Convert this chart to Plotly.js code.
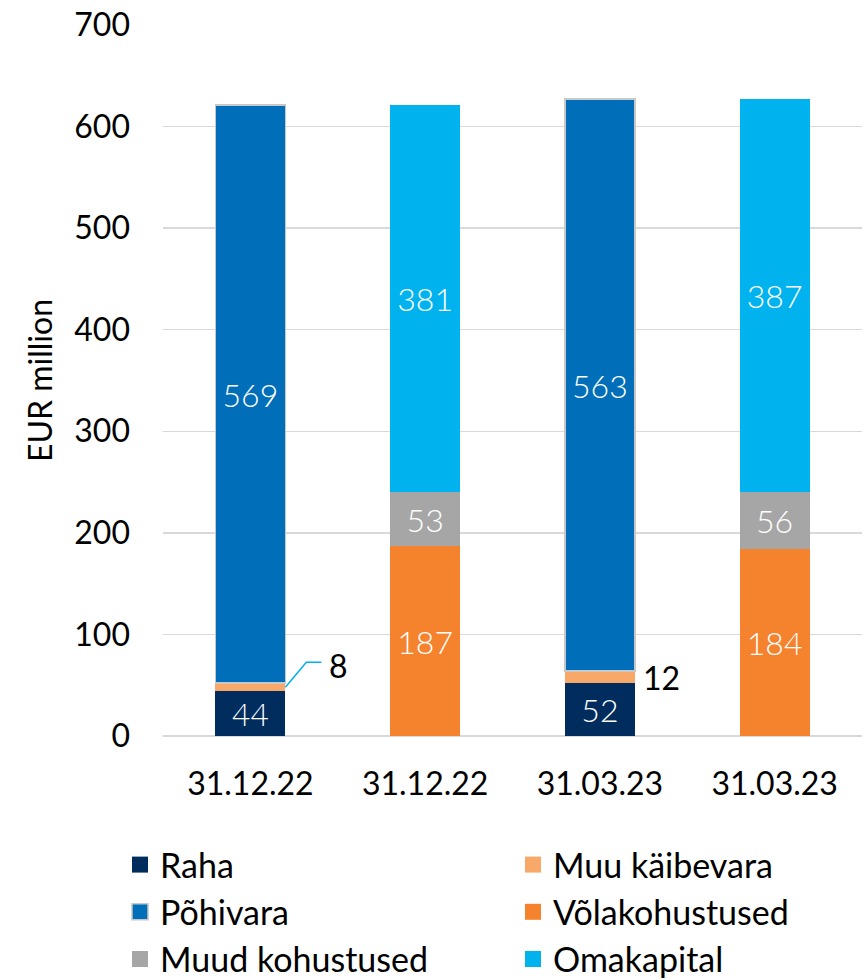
<!DOCTYPE html>
<html><head><meta charset="utf-8">
<script src="https://cdn.plot.ly/plotly-3.0.1.min.js"></script>
<style>html,body{margin:0;padding:0;background:#fff}#c{width:868px;height:980px}</style>
</head><body><div id="c"></div>
<script>
const categories = ["31.12.22", "31.12.22", "31.03.23", "31.03.23"];
const raha = [44, null, 52, null];
const muuKaibevara = [8, null, 12, null];
const pohivara = [569, null, 563, null];
const volakohustused = [null, 187, null, 184];
const muudKohustused = [null, 53, null, 56];
const omakapital = [null, 381, null, 387];
const yTicks = [0, 100, 200, 300, 400, 500, 600, 700];

const FONT = "Lato, 'Noto Sans', sans-serif";
const pos = categories.map((c, i) => i);
const BW = 0.4;
const BORDER = {width: 1.5, color: '#c8c8c8'};

const series = [
  {name: 'Raha', vals: raha, color: '#002D5D', text: true, legend: 'legend'},
  {name: 'Muu käibevara', vals: muuKaibevara, color: '#F8A96A', text: false, legend: 'legend2'},
  {name: 'Põhivara', vals: pohivara, color: '#006EB8', text: true, legend: 'legend', line: BORDER},
  {name: 'Võlakohustused', vals: volakohustused, color: '#F5822D', text: true, legend: 'legend2'},
  {name: 'Muud kohustused', vals: muudKohustused, color: '#A6A6A6', text: true, legend: 'legend'},
  {name: 'Omakapital', vals: omakapital, color: '#00B2EE', text: true, legend: 'legend2'}
];

const data = [];
series.forEach(s => {
  data.push({
    type: 'bar', name: s.name, x: pos, y: s.vals, width: BW, showlegend: false,
    marker: {color: s.color, line: s.line || {width: 0}},
    text: s.text ? s.vals.map(v => v == null ? '' : String(v)) : undefined,
    textposition: s.text ? 'inside' : 'none',
    insidetextanchor: 'middle', textangle: 0,
    textfont: {family: FONT, size: 32, color: '#ffffff', weight: 300},
    hoverinfo: 'skip'
  });
});
// legend entries (larger square swatches)
series.forEach((s, i) => {
  data.push({
    type: 'scatter', mode: 'markers', name: s.name, x: [null], y: [null],
    legend: s.legend, legendgroup: 'g' + i, showlegend: true,
    marker: {symbol: 'square', size: 18, color: s.color,
             line: s.line ? {width: 1.5, color: '#c8c8c8'} : {width: 0}},
    hoverinfo: 'skip'
  });
});

const shapes = [];
const annotations = [];
muuKaibevara.forEach((v, i) => {
  if (v == null) return;
  const mid = raha[i] + v / 2;
  if (i === 0) {
    shapes.push({
      type: 'path', xref: 'x', yref: 'y', xsizemode: 'pixel', ysizemode: 'pixel',
      xanchor: pos[i] + BW / 2, yanchor: mid,
      path: 'M0,0 L21,25 L36,25', line: {color: '#00B0F0', width: 1.5}
    });
    annotations.push({
      x: pos[i] + BW / 2, y: mid, xref: 'x', yref: 'y', text: String(v),
      showarrow: false, xanchor: 'left', xshift: 42, yshift: 22,
      font: {family: FONT, size: 32, color: '#000'}
    });
  } else {
    annotations.push({
      x: pos[i] + BW / 2, y: mid, xref: 'x', yref: 'y', text: String(v),
      showarrow: false, xanchor: 'left', xshift: 6,
      font: {family: FONT, size: 32, color: '#000'}
    });
  }
});

const legendBase = {
  orientation: 'v', yref: 'container', y: 1 - 836 / 980, yanchor: 'top', xanchor: 'left',
  traceorder: 'normal', tracegroupgap: 5, bgcolor: 'rgba(0,0,0,0)',
  font: {family: FONT, size: 34, color: '#000'}, itemwidth: 30
};

const layout = {
  width: 868, height: 980,
  margin: {l: 163, r: 6, t: 25, b: 244, autoexpand: false},
  paper_bgcolor: '#fff', plot_bgcolor: '#fff',
  barmode: 'stack',
  showlegend: true,
  font: {family: FONT, color: '#000'},
  xaxis: {
    tickvals: pos, ticktext: categories, range: [-0.5, 3.5],
    showgrid: false, zeroline: false, showline: false, ticks: '',
    tickfont: {family: FONT, size: 32, color: '#000'}, ticklabelstandoff: 26
  },
  yaxis: {
    range: [0, 700], tickvals: yTicks, showgrid: true, gridcolor: '#d9d9d9', gridwidth: 1.5,
    zeroline: true, zerolinecolor: '#d9d9d9', zerolinewidth: 1.5, showline: false, ticks: '',
    tickfont: {family: FONT, size: 32, color: '#000'}, ticklabelstandoff: 32,
    title: {text: 'EUR million', font: {family: FONT, size: 32, color: '#000'}, standoff: 12}
  },
  legend: Object.assign({}, legendBase, {x: (120 - 163) / 699}),
  legend2: Object.assign({}, legendBase, {x: (513 - 163) / 699}),
  shapes: shapes,
  annotations: annotations
};

Plotly.newPlot('c', data, layout, {displayModeBar: false, staticPlot: true});
</script></body></html>
